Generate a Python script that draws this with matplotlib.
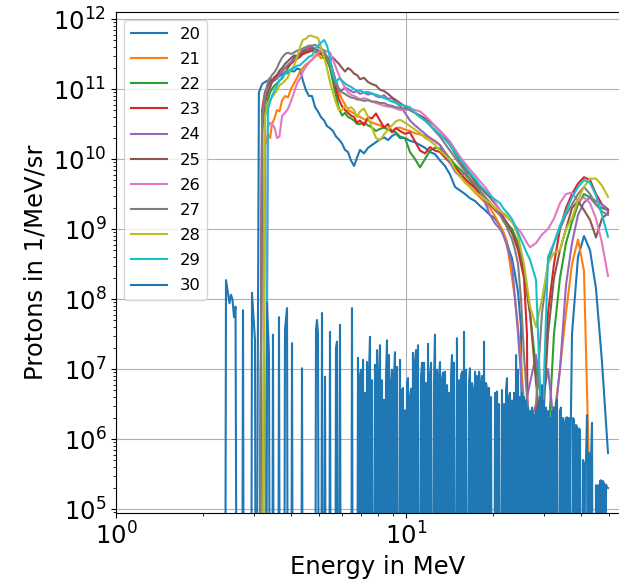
import matplotlib
matplotlib.use("Agg")
import matplotlib.pyplot as plt
import numpy as np

z = 1.0  # log10 level used for empty bins (falls far below the plot)

# energy bins in MeV shared by the spectra 20..29
energy = [3.04, 3.11, 3.19, 3.26, 3.34, 3.40, 3.45, 3.52, 3.59, 3.66,
          3.74, 3.83, 3.92, 4.01, 4.11, 4.21, 4.31, 4.41, 4.52, 4.63,
          4.74, 4.86, 4.97, 5.09, 5.22, 5.34, 5.47, 5.60, 5.74, 5.87,
          6.02, 6.16, 6.31, 6.46, 6.62, 6.78, 6.94, 7.16, 7.40, 7.63,
          7.88, 8.13, 8.40, 8.67, 8.95, 9.24, 9.54, 9.92, 10.32, 10.74,
          11.18, 11.63, 12.10, 12.59, 13.10, 13.63, 14.18, 14.76, 15.36, 15.98,
          16.62, 17.30, 18.00, 18.73, 19.49, 20.28, 21.10, 21.61, 22.13, 22.66,
          23.21, 23.77, 24.34, 24.92, 25.52, 26.13, 26.77, 28.08, 29.44, 30.88,
          32.38, 33.96, 35.62, 37.36, 39.18, 41.09, 43.10, 45.20, 47.41, 49.72]

# log10 of protons per MeV/sr
s20 = [z, 10.95, 11.07, 11.1, 11.12, 11.16, 11.1, 11.17, 11.15, 11.19,
       11.2, 11.24, 11.22, 11.26, 11.25, 11.29, 11.28, 11.12, 10.98, 10.9,
       10.9, 10.74, 10.68, 10.6, 10.55, 10.47, 10.44, 10.4, 10.32, 10.28,
       10.22, 10.13, 10.1, 9.98, 9.9, 10.02, 10.13, 10.08, 10.16, 10.2,
       10.24, 10.28, 10.31, 10.27, 10.33, 10.36, 10.3, 10.3, 10.26, 10.24,
       10.2, 10.16, 10.1, 10.07, 9.98, 9.9, 9.78, 9.6, 9.55, 9.5,
       9.44, 9.4, 9.33, 9.27, 9.2, 9.15, 9.04, 8.95, 8.85, 8.7,
       8.58, 8.35, 8.1, 7.6, z, z, z, z, z, z,
       z, z, z, 7.5, 8.6, 8.9, 8.7, 8.15, 7.1, 5.8]
s21 = [z, z, z, 10.17, 10.35, 10.3, 10.5, 10.58, 10.7, 10.68,
       10.84, 10.9, 10.88, 11.0, 11.08, 11.16, 11.25, 11.3, 11.35, 11.38,
       11.42, 11.46, 11.5, 11.44, 11.45, 11.47, 11.4, 11.25, 11.1, 10.95,
       10.85, 10.78, 10.7, 10.68, 10.65, 10.62, 10.6, 10.57, 10.55, 10.52,
       10.5, 10.48, 10.45, 10.43, 10.4, 10.44, 10.45, 10.42, 10.4, 10.37,
       10.35, 10.33, 10.3, 10.26, 10.2, 10.1, 10.0, 9.9, 9.8, 9.7,
       9.6, 9.52, 9.45, 9.38, 9.3, 9.18, 9.05, 8.97, 8.85, 8.6,
       8.3, 8.0, 7.6, 7.1, 6.5, 6.0, 5.5, z, 6.0, 5.5,
       6.3, 7.0, 7.8, 8.5, 8.85, 8.4, 5.0, z, z, z]
s22 = [z, z, z, 10.6, 10.85, 10.95, 11.0, 11.05, 11.08, 11.12,
       11.15, 11.22, 11.3, 11.38, 11.45, 11.47, 11.5, 11.5, 11.52, 11.54,
       11.55, 11.53, 11.52, 11.5, 11.45, 11.4, 11.3, 11.1, 10.9, 10.72,
       10.62, 10.66, 10.6, 10.58, 10.55, 10.5, 10.5, 10.52, 10.48, 10.45,
       10.4, 10.43, 10.45, 10.42, 10.4, 10.38, 10.32, 10.3, 10.1, 10.0,
       9.88, 10.0, 10.12, 10.16, 10.15, 10.08, 10.0, 9.92, 9.85, 9.78,
       9.7, 9.6, 9.5, 9.43, 9.35, 9.28, 9.22, 9.16, 9.1, 9.05,
       9.0, 8.9, 8.8, 8.6, 8.4, 8.1, 7.8, 7.0, 6.5, 5.9,
       7.5, 8.3, 8.8, 9.1, 9.35, 9.5, 9.45, 9.35, 9.3, 9.27]
s23 = [z, z, 10.7, 10.95, 11.05, 11.1, 11.12, 11.17, 11.2, 11.22,
       11.25, 11.3, 11.32, 11.36, 11.4, 11.43, 11.46, 11.5, 11.52, 11.53,
       11.55, 11.56, 11.55, 11.52, 11.5, 11.45, 11.35, 11.2, 11.0, 10.85,
       10.75, 10.7, 10.66, 10.62, 10.6, 10.52, 10.55, 10.48, 10.6, 10.58,
       10.65, 10.55, 10.45, 10.5, 10.38, 10.44, 10.4, 10.36, 10.38, 10.25,
       10.12, 10.08, 10.17, 10.12, 10.1, 10.02, 9.95, 9.88, 9.8, 9.72,
       9.65, 9.58, 9.5, 9.42, 9.35, 9.27, 9.2, 9.15, 9.1, 9.02,
       8.95, 8.82, 8.7, 8.5, 8.3, 7.5, z, 6.5, 6.2, 7.8,
       8.5, 9.0, 9.3, 9.5, 9.65, 9.74, 9.7, 9.5, 9.35, 9.28]
s24 = [z, z, 10.6, 10.9, 11.0, 11.05, 11.1, 11.12, 11.15, 11.2,
       11.25, 11.3, 11.35, 11.38, 11.42, 11.46, 11.5, 11.55, 11.58, 11.6,
       11.6, 11.58, 11.55, 11.54, 11.5, 11.46, 11.4, 11.25, 11.1, 11.0,
       10.98, 11.02, 11.0, 10.97, 10.95, 10.97, 10.93, 10.95, 10.92, 10.94,
       10.9, 10.88, 10.91, 10.86, 10.87, 10.8, 10.76, 10.66, 10.55, 10.48,
       10.42, 10.36, 10.3, 10.25, 10.2, 10.08, 9.95, 9.82, 9.75, 9.8,
       9.8, 9.68, 9.55, 9.38, 9.2, 9.08, 9.0, 8.92, 8.8, 8.65,
       8.5, 8.0, 7.5, 6.9, 6.3, 6.6, 6.8, 7.2, 6.5, 7.0,
       6.2, 7.0, 8.2, 8.8, 9.2, 9.38, 9.45, 9.4, 9.35, 9.25]
s25 = [z, z, 10.4, 10.8, 10.95, 11.02, 11.1, 11.15, 11.2, 11.26,
       11.3, 11.36, 11.4, 11.44, 11.48, 11.47, 11.5, 11.53, 11.55, 11.57,
       11.58, 11.56, 11.55, 11.5, 11.48, 11.44, 11.42, 11.45, 11.4, 11.36,
       11.3, 11.25, 11.3, 11.27, 11.22, 11.2, 11.14, 11.16, 11.1, 11.07,
       11.05, 10.99, 10.97, 10.93, 10.88, 10.84, 10.8, 10.75, 10.7, 10.66,
       10.62, 10.58, 10.53, 10.47, 10.4, 10.32, 10.2, 10.08, 9.96, 9.86,
       9.78, 9.68, 9.6, 9.52, 9.45, 9.36, 9.27, 9.18, 9.1, 9.02,
       8.95, 8.85, 8.75, 8.6, 8.4, 8.1, 7.8, 6.8, 6.0, 7.5,
       8.3, 8.7, 9.0, 9.3, 9.4, 9.27, 9.13, 8.88, 9.15, 9.23]
s26 = [z, z, z, z, 10.45, 10.52, 10.5, 10.45, 10.3, 10.32,
       10.62, 10.66, 10.72, 10.82, 10.95, 11.08, 11.15, 11.25, 11.32, 11.38,
       11.42, 11.48, 11.52, 11.55, 11.55, 11.54, 11.52, 11.42, 11.3, 11.2,
       11.1, 11.02, 10.95, 10.92, 10.9, 10.88, 10.85, 10.87, 10.85, 10.82,
       10.8, 10.78, 10.76, 10.75, 10.74, 10.72, 10.7, 10.7, 10.72, 10.7,
       10.68, 10.62, 10.55, 10.47, 10.4, 10.33, 10.25, 10.14, 10.03, 9.94,
       9.85, 9.77, 9.68, 9.6, 9.5, 9.38, 9.27, 9.22, 9.18, 9.14,
       9.1, 9.05, 9.0, 8.95, 8.88, 8.8, 8.74, 8.8, 8.92, 9.0,
       9.15, 9.37, 9.5, 9.52, 9.4, 9.45, 9.37, 9.15, 8.8, 8.33]
s27 = [z, z, 10.55, 10.9, 11.1, 11.15, 11.2, 11.24, 11.3, 11.38,
       11.45, 11.5, 11.52, 11.5, 11.52, 11.55, 11.55, 11.58, 11.6, 11.62,
       11.62, 11.63, 11.6, 11.58, 11.55, 11.45, 11.35, 11.2, 11.05, 10.98,
       10.95, 10.93, 10.9, 10.88, 10.87, 10.85, 10.85, 10.83, 10.84, 10.82,
       10.82, 10.8, 10.8, 10.77, 10.76, 10.74, 10.73, 10.72, 10.7, 10.66,
       10.6, 10.55, 10.48, 10.4, 10.32, 10.22, 10.12, 10.02, 9.92, 9.82,
       9.72, 9.64, 9.55, 9.46, 9.38, 9.28, 9.2, 9.12, 9.05, 8.95,
       8.85, 8.7, 8.5, 8.0, 7.2, 6.6, 6.2, 6.5, 7.8, 8.5,
       8.8, 9.0, 9.2, 9.35, 9.5, 9.6, 9.5, 9.35, 9.25, 9.2]
s28 = [z, z, z, 10.6, 10.8, 10.85, 10.88, 10.93, 10.98, 11.05,
       11.08, 11.12, 11.17, 11.28, 11.33, 11.45, 11.6, 11.7, 11.72, 11.76,
       11.76, 11.74, 11.73, 11.6, 11.45, 11.3, 11.1, 10.95, 10.8, 10.7,
       10.7, 10.76, 10.72, 10.74, 10.7, 10.6, 10.68, 10.72, 10.6, 10.45,
       10.3, 10.27, 10.35, 10.42, 10.48, 10.54, 10.56, 10.52, 10.47, 10.42,
       10.37, 10.3, 10.26, 10.2, 10.12, 10.05, 9.99, 9.85, 9.75, 9.66,
       9.6, 9.53, 9.48, 9.42, 9.37, 9.3, 9.26, 9.23, 9.2, 9.15,
       9.1, 9.02, 8.9, 8.7, 8.5, 8.2, 7.9, 7.6, 8.0, 8.5,
       8.66, 8.7, 9.0, 9.15, 9.42, 9.6, 9.72, 9.72, 9.62, 9.46]
s29 = [z, z, z, z, 10.7, 10.82, 10.9, 10.98, 11.05, 11.12,
       11.17, 11.22, 11.25, 11.28, 11.3, 11.33, 11.34, 11.38, 11.42, 11.46,
       11.48, 11.55, 11.62, 11.66, 11.7, 11.62, 11.45, 11.2, 11.1, 11.15,
       11.12, 11.08, 11.05, 11.03, 11.0, 10.97, 10.98, 10.95, 10.96, 10.93,
       10.92, 10.9, 10.87, 10.85, 10.82, 10.8, 10.78, 10.76, 10.74, 10.66,
       10.6, 10.55, 10.48, 10.42, 10.35, 10.28, 10.2, 10.1, 9.99, 9.9,
       9.8, 9.72, 9.62, 9.55, 9.48, 9.42, 9.37, 9.3, 9.25, 9.2,
       9.14, 9.05, 8.95, 8.85, 8.75, 8.65, 8.56, 8.27, 6.0, 8.6,
       8.8, 9.05, 9.25, 9.45, 9.6, 9.7, 9.66, 9.48, 9.2, 8.89]

# spectrum 30 is mostly noise and has its own, finer bins
noise_energy = [2.376, 2.395, 2.462, 2.492, 2.522, 2.552, 2.583, 2.614, 2.719, 2.741,
                2.763, 2.921, 2.944, 3.015, 3.039, 3.290, 3.317, 3.370, 3.396, 3.451,
                3.478, 3.506, 3.619, 3.648, 3.677, 3.796, 3.826, 3.888, 3.919, 4.013,
                4.045, 4.077, 4.345, 4.379, 4.414, 4.856, 4.894, 4.933, 4.973, 5.012,
                5.092, 5.133, 5.174, 5.215, 5.257, 5.298, 5.426, 5.469, 5.513, 5.691,
                5.736, 5.782, 5.828, 5.874, 5.921, 5.968,
                6.462, 6.513, 6.565, 6.618, 6.670, 6.724, 6.777, 6.831, 6.886,
                6.940, 6.996, 7.051, 7.108, 7.164, 7.222, 7.279, 7.337, 7.396, 7.455,
                7.514, 7.574, 7.634, 7.695, 7.757, 7.818, 7.881, 7.944, 8.007, 8.071,
                8.135, 8.199, 8.265, 8.331, 8.397, 8.464, 8.532, 8.600, 8.668, 8.737,
                8.807, 8.877, 8.948, 9.020, 9.092, 9.164, 9.237, 9.311, 9.385, 9.460,
                9.535, 9.611, 9.688, 9.765, 9.843, 9.921, 10.00, 10.08, 10.16, 10.24,
                10.32, 10.41, 10.49, 10.57, 10.66, 10.74, 10.83, 10.91, 11.00, 11.09,
                11.18, 11.27, 11.36, 11.45, 11.54, 11.63, 11.72, 11.82, 11.91, 12.00,
                12.10, 12.20, 12.29, 12.39, 12.49, 12.59, 12.69, 12.79, 12.89, 13.00,
                13.10, 13.20, 13.31, 13.42, 13.52, 13.63, 13.74, 13.85, 13.96, 14.07,
                14.18, 14.30, 14.41, 14.52, 14.64, 14.76, 14.87, 14.99, 15.11, 15.23,
                15.36, 15.48, 15.60, 15.73, 15.85, 15.98, 16.10, 16.23, 16.36, 16.49,
                16.62, 16.76, 16.89, 17.03, 17.16, 17.30, 17.44, 17.58, 17.72, 17.86,
                18.00, 18.14, 18.29, 18.43, 18.58, 18.73, 18.88, 19.03, 19.18, 19.33,
                19.49, 19.64, 19.80, 19.96, 20.12, 20.28, 20.44, 20.60, 20.76, 20.93,
                21.10, 21.26, 21.43, 21.61, 21.78, 21.95, 22.13, 22.30, 22.48, 22.66,
                22.84, 23.02, 23.21, 23.39, 23.58, 23.77, 23.96, 24.15, 24.34, 24.53,
                24.72, 24.92, 25.12, 25.32, 25.52, 25.72, 25.93, 26.13, 26.34, 26.55,
                26.77, 26.98, 27.20, 27.42, 27.63, 27.86, 28.08, 28.30, 28.53, 28.75,
                28.98, 29.21, 29.44, 29.68, 29.92, 30.15, 30.39, 30.64, 30.88, 31.13,
                31.37, 31.62, 31.87, 32.13, 32.38, 32.64, 32.90, 33.16, 33.43, 33.69,
                33.96, 34.23, 34.50, 34.78, 35.06, 35.34, 35.62, 35.90, 36.19, 36.48,
                36.77, 37.06, 37.36, 37.66, 37.96, 38.26, 38.57, 38.87, 39.18, 39.50,
                39.81, 40.13, 40.45, 40.77, 41.10, 41.42, 41.75, 42.09, 42.42, 42.76,
                43.10, 43.44, 43.79, 44.14, 44.49, 44.85, 45.20, 45.56, 45.93, 46.29,
                46.66, 47.03, 47.41, 47.79, 48.17, 48.55, 48.94, 49.33, 49.72]
noise_level = [z, 8.27, 7.94, 8.06, 7.99, 7.74, 7.89, z, z, 7.84,
               z, z, 8.09, 7.41, z, z, 7.95, 7.2, z, z,
               7.49, z, z, 7.74, z, z, 7.56, 7.87, z, z,
               7.37, z, z, 7.01, z, z, 7.56, 7.7, 7.5, z,
               z, 7.8, z, z, 6.89, z, z, 7.53, z, z,
               7.3, 7.39, z, z, 7.63, z,
               z, 7.87, z, z, z, z, z, 7.16, z,
               6.9, 6.99, z, 7.13, z, 6.66, z, 7.1, z, 6.95,
               7.46, z, 6.84, z, z, 7.06, z, 7.27, z, 6.9,
               7.34, z, 6.84, z, 6.56, z, 6.9, 7.41, z, 7.2,
               z, 6.8, 6.99, z, 6.9, 7.24, z, 7.03, z, z,
               7.13, z, 6.7, 6.73, z, 6.41, z, 6.8, 6.87, z,
               6.6, 6.72, z, 7.23, z, 7.1, 7.27, z, 7.34, z,
               z, 6.9, 7.09, z, 7.09, z, 6.8, z, 7.36, z,
               6.9, 7.09, z, z, 6.8, 7.49, z, 6.99, z, 6.9,
               7.1, z, 6.85, 6.95, z, 6.96, z, 6.77, z, 6.66,
               z, 6.9, 7.2, z, 7.09, z, z, 7.44, z, 6.84,
               z, 6.9, 6.96, z, 7.53, z, 6.99, z, z, 6.8,
               7.01, z, 6.8, 6.7, z, 6.96, z, 6.9, z, 6.96,
               6.8, z, 6.9, z, 7.39, z, 6.8, 6.7, z, 6.73,
               z, 6.6, z, z, z, 6.66, z, 6.68, z, 6.5,
               z, z, 6.7, z, 6.5, z, 6.7, 6.87, z, 6.6,
               6.66, z, 6.55, z, 6.66, z, 7.2, z, 6.99, z,
               6.6, z, 6.66, z, 6.6, z, 6.55, z, 6.45, z,
               6.4, z, 6.45, z, 6.35, z, 6.4, z, 6.5, z,
               6.6, z, 6.77, z, 6.55, z, 6.45, z, 6.4, z,
               6.3, z, 6.4, z, 6.45, z, 6.5, 6.56, z, z,
               6.4, 6.45, z, 6.3, 6.23, z, 6.3, 6.31, z, 6.3,
               6.25, z, z, 6.3, 6.27, z, 6.2, 6.17, z, 6.15,
               6.13, z, z, 5.7, z, 5.65, 5.7, 6.34, z, 5.8,
               z, 5.7, 6.23, z, z, z, 5.34, z, 5.34, z,
               5.4, 5.41, z, 5.4, 5.36, z, 5.35, 5.31, 5.3]

labels = ["20", "21", "22", "23", "24", "25", "26", "27", "28", "29", "30"]
spectra = [s20, s21, s22, s23, s24, s25, s26, s27, s28, s29]

fig = plt.figure(figsize=(6.19, 5.79), dpi=100)
ax = fig.add_axes([116/619, 66/579, 524/619, 501/579])

for lab, s in zip(labels[:-1], spectra):
    ax.plot(energy, 10**np.array(s), label=lab)
ax.plot(noise_energy, 10**np.array(noise_level), label=labels[-1])

ax.set_xscale("log")
ax.set_yscale("log")
ax.set_xlim(1, 10**(524/290))
ax.set_ylim(10**4.943, 10**12.1)
ax.grid(True)
ax.tick_params(labelsize=17.5)
ax.set_xlabel("Energy in MeV", fontsize=17.5)
ax.set_ylabel("Protons in 1/MeV/sr", fontsize=17.5)
ax.legend(loc="upper left", fontsize=11.8, handlelength=2.2, labelspacing=0.62)

fig.savefig("out.png", dpi=100)
